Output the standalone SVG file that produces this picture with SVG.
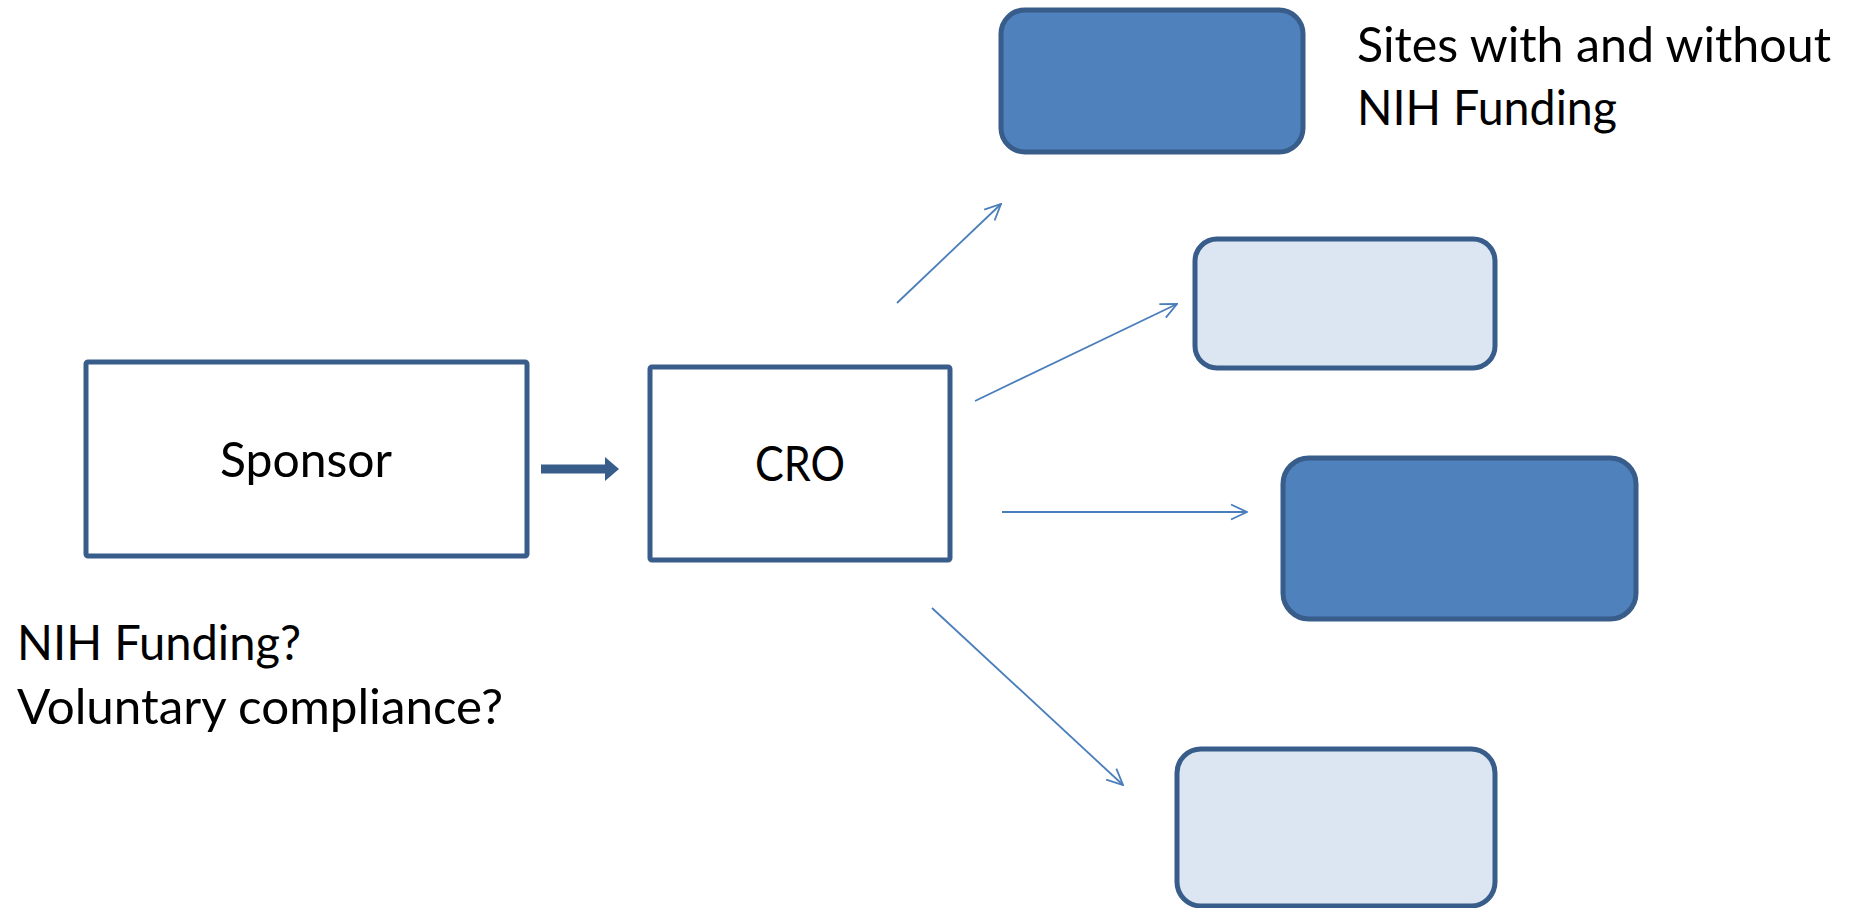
<svg xmlns="http://www.w3.org/2000/svg" width="1862" height="908" viewBox="0 0 1862 908">
<defs>
<style>
.box{stroke:#385d8a;stroke-width:5;}
.plain{fill:#ffffff;}
.dark{fill:#4f81bd;}
.light{fill:#dce6f2;}
.lbl{font-family:Lato,"Liberation Sans",sans-serif;font-size:48px;fill:#000000;}
.conn{stroke:#4a7ebb;stroke-width:1.8;fill:none;marker-end:url(#open);}
</style>
<marker id="open" viewBox="0 0 18 18" refX="17" refY="9" markerWidth="18" markerHeight="18" markerUnits="userSpaceOnUse" orient="auto">
<path d="M1,1.5 L17,9 L1,16.5" fill="none" stroke="#4a7ebb" stroke-width="1.8"/>
</marker>
</defs>
<rect width="1862" height="908" fill="#ffffff"/>
<g id="sponsor">
<rect class="box plain" x="86" y="362" width="441" height="194" rx="2"/>
<text class="lbl" x="306" y="477" text-anchor="middle" textLength="172" lengthAdjust="spacingAndGlyphs">Sponsor</text>
</g>
<g id="cro">
<rect class="box plain" x="650" y="367" width="300" height="193" rx="2"/>
<text class="lbl" x="800" y="481" text-anchor="middle" textLength="90" lengthAdjust="spacingAndGlyphs">CRO</text>
</g>
<g id="site1">
<rect class="box dark" x="1001" y="10" width="302" height="142" rx="24"/>
</g>
<g id="site2">
<rect class="box light" x="1195" y="239" width="300" height="129" rx="22"/>
</g>
<g id="site3">
<rect class="box dark" x="1283" y="458" width="353" height="161" rx="26"/>
</g>
<g id="site4">
<rect class="box light" x="1177" y="749" width="318" height="157" rx="24"/>
</g>
<g id="legend">
<text class="lbl" x="1357" y="62" textLength="474" lengthAdjust="spacingAndGlyphs">Sites with and without</text>
<text class="lbl" x="1357" y="125" textLength="260" lengthAdjust="spacingAndGlyphs">NIH Funding</text>
</g>
<g id="sponsor-note">
<text class="lbl" x="17" y="660" textLength="284" lengthAdjust="spacingAndGlyphs">NIH Funding?</text>
<text class="lbl" x="17" y="724" textLength="486" lengthAdjust="spacingAndGlyphs">Voluntary compliance?</text>
</g>
<g id="connectors">
<line x1="541" y1="469" x2="607" y2="469" stroke="#385d8a" stroke-width="9"/>
<path d="M605,457 L619,469 L605,481 Z" fill="#385d8a"/>
<line class="conn" x1="897" y1="303" x2="1001" y2="204"/>
<line class="conn" x1="975" y1="401" x2="1177" y2="304"/>
<line class="conn" x1="1002" y1="512" x2="1247" y2="512"/>
<line class="conn" x1="932" y1="608" x2="1123" y2="785"/>
</g>
</svg>
